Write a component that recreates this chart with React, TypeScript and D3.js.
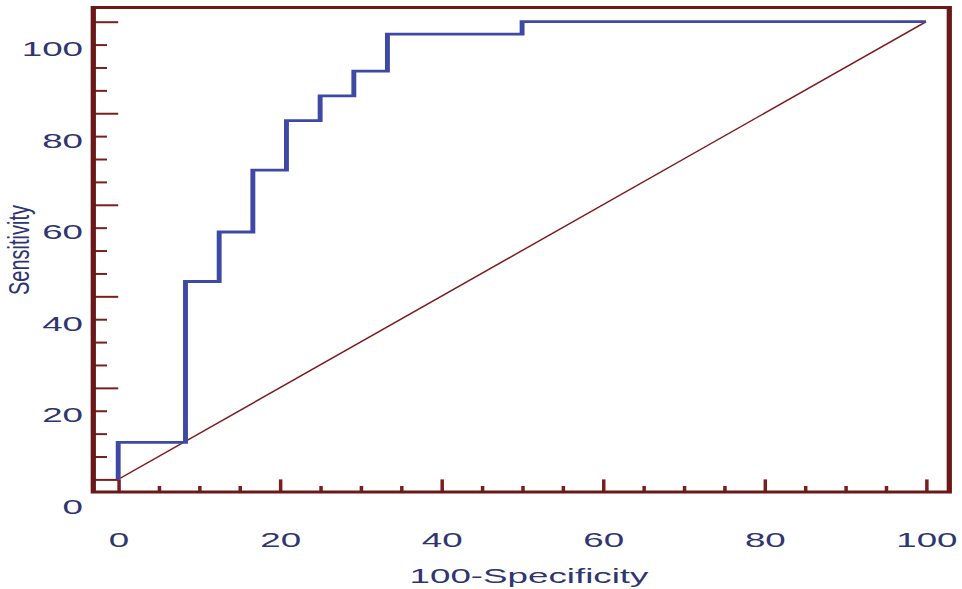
import React, { useEffect, useRef } from 'react';
import * as d3 from 'd3';

// ROC curve, the picture is stretched sideways so everything is drawn in a scaled group

const fpr = [0, 8.33, 12.5, 16.67, 20.83, 25, 29.17, 33.33, 50, 100];
const sensitivity = [0, 8.11, 43.24, 54.05, 67.57, 78.38, 83.78, 89.19, 97.3, 100];
const diagX = [0, 100];
const diagY = [0, 100];
const majorTicks = [0, 20, 40, 60, 80, 100];
const minorTicks = [5, 10, 15, 25, 30, 35, 45, 50, 55, 65, 70, 75, 85, 90, 95];
const xTitle = '100-Specificity';
const yTitle = 'Sensitivity';

const SX = 1.75;
const W = 962, H = 589;
const maroon = '#6a1818';
const tickColor = '#7a1f1f';
const navy = '#2f3571';
const blue = '#3e49a5';
const font = 'Liberation Sans, Arial, sans-serif';

export default function App() {
  const ref = useRef<SVGSVGElement>(null);

  useEffect(() => {
    const svg = d3.select(ref.current);
    svg.selectAll('*').remove();
    const g = svg.append('g').attr('transform', `scale(${SX},1)`);

    const left = 93.3, right = 949.3, top = 7.5, bottom = 492;
    const x = d3.scaleLinear().domain([0, 100]).range([118.2 / SX, 926 / SX]);
    const y = d3.scaleLinear().domain([0, 100]).range([479.4, 21.7]);

    // y ticks
    const yMajor = g.append('g').attr('transform', `translate(${left / SX},0)`)
      .call(d3.axisLeft(y).tickValues(majorTicks).tickSize(-(118.2 - left) / SX).tickPadding(10.3 / SX));
    const yMinor = g.append('g').attr('transform', `translate(${left / SX},0)`)
      .call(d3.axisLeft(y).tickValues(minorTicks).tickSize(-(107 - left) / SX).tickFormat(() => ''));

    // x ticks
    const xMajor = g.append('g').attr('transform', `translate(0,${bottom})`)
      .call(d3.axisBottom(x).tickValues(majorTicks).tickSize(-(bottom - 479.4)));
    const xMinor = g.append('g').attr('transform', `translate(0,${bottom})`)
      .call(d3.axisBottom(x).tickValues(minorTicks).tickSize(-(bottom - 486)).tickFormat(() => ''));

    [yMajor, yMinor, xMajor, xMinor].forEach(a => {
      a.select('.domain').remove();
      a.attr('color', tickColor).attr('font-family', font).attr('font-size', 21);
      a.selectAll('line').attr('stroke-width', 2);
      a.selectAll('text').attr('fill', navy);
    });
    yMajor.selectAll('text').attr('dy', 34);
    xMajor.selectAll('text').attr('y', 55).attr('dy', 0);

    // diagonal
    const diag = d3.line<number>().x((d, i) => x(diagX[i])).y((d, i) => y(diagY[i]));
    g.append('path').attr('d', diag(diagX)).attr('fill', 'none')
      .attr('stroke', '#7c1c1c').attr('stroke-width', 1.2);

    // roc curve
    const roc = d3.line<number>().x((d, i) => x(fpr[i])).y((d, i) => y(sensitivity[i]))
      .curve(d3.curveStepBefore);
    g.append('path').attr('d', roc(fpr)).attr('fill', 'none')
      .attr('stroke', blue).attr('stroke-width', 2.8);

    // frame
    g.append('rect')
      .attr('x', left / SX).attr('y', top)
      .attr('width', (right - left) / SX).attr('height', bottom - top)
      .attr('fill', 'none').attr('stroke', maroon).attr('stroke-width', 3);

    // titles
    g.append('text')
      .attr('x', 529 / SX).attr('y', 583)
      .attr('text-anchor', 'middle')
      .attr('font-family', font).attr('font-size', 21)
      .attr('fill', navy)
      .text(xTitle);

    g.append('text')
      .attr('transform', `translate(${29 / SX},250) rotate(-90)`)
      .attr('text-anchor', 'middle')
      .attr('font-family', font).attr('font-size', 16.5)
      .attr('textLength', 90).attr('lengthAdjust', 'spacingAndGlyphs')
      .attr('fill', navy)
      .text(yTitle);
  }, []);

  return (
    <svg ref={ref} width={W} height={H} style={{ position: 'absolute', left: 0, top: 0 }} />
  );
}
